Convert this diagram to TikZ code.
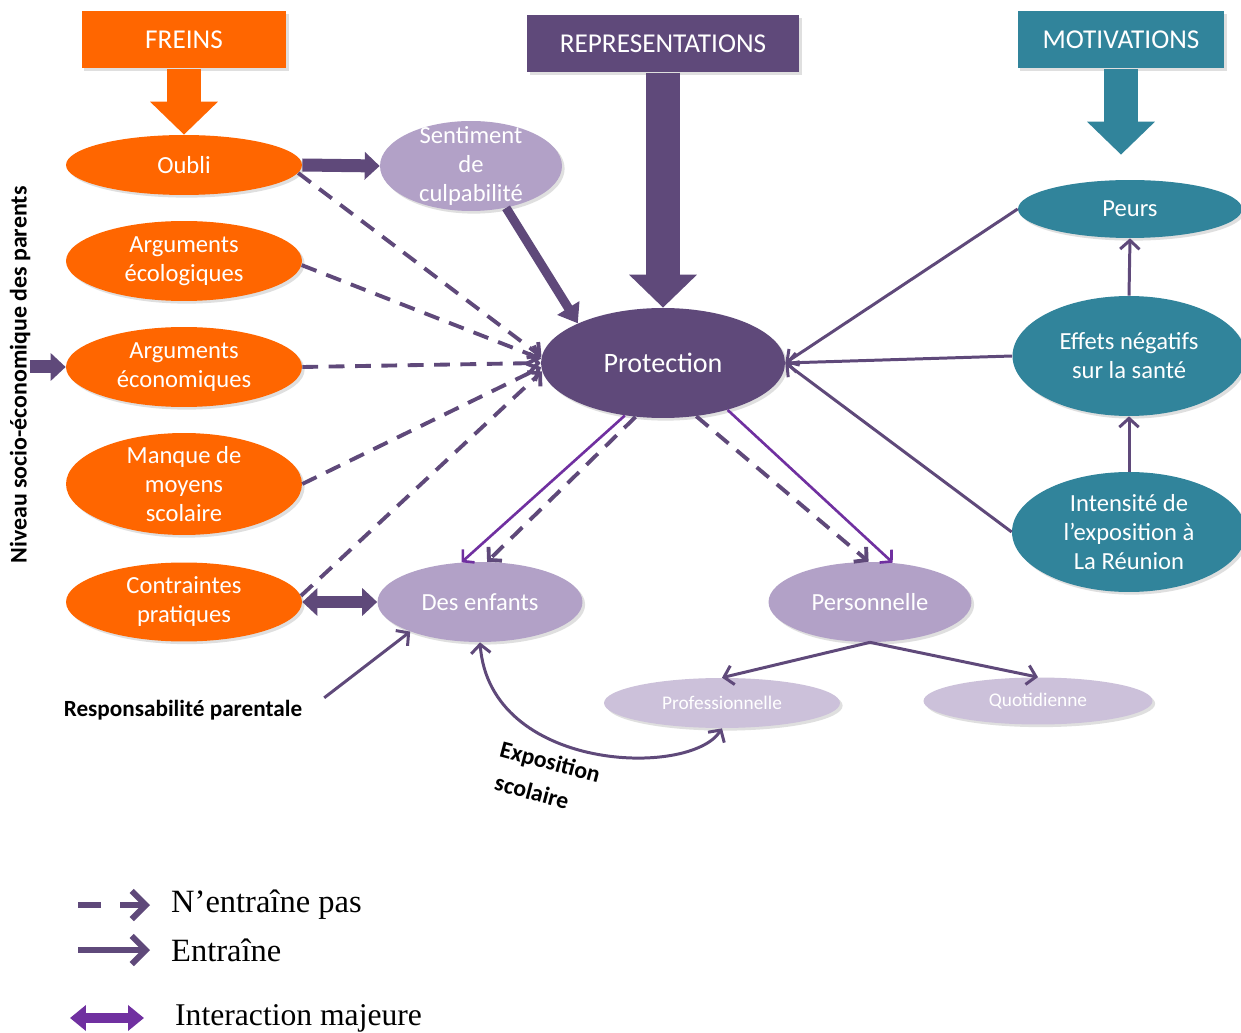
\documentclass[tikz,border=0pt]{standalone}
\usepackage{fontspec}
\setmainfont{Carlito}
\newfontfamily\legende{Liberation Serif}
\usetikzlibrary{arrows.meta,shapes.geometric,shadows}

\definecolor{orangefrein}{HTML}{FF6600}
\definecolor{violetrep}{HTML}{5F497A}
\definecolor{bleumotiv}{HTML}{31849B}
\definecolor{lilas}{HTML}{B2A1C7}
\definecolor{lilasclair}{HTML}{CCC1DA}
\definecolor{violetvif}{HTML}{7030A0}

\begin{document}
\begin{tikzpicture}[x=0.02cm, y=-0.02cm]
    \tikzset{titre/.style= {rectangle, text=white
    , minimum height=1.14cm
    , font=\fontsize{15.5}{18}\selectfont
    , drop shadow={opacity=0.25, shadow xshift=1.5pt, shadow yshift=-1.5pt}
      },
      bulle/.style= {ellipse, align=center, text=white
    , inner sep=0pt
    , font=\fontsize{14}{16.5}\selectfont
    , drop shadow={opacity=0.25, shadow xshift=1.5pt, shadow yshift=-1.5pt}
      },
      grande/.style= {draw=#1, line width=0.68cm
    , -{Triangle[width=1.32cm, length=0.66cm]}
      },
      bloc/.style= {draw=violetrep, line width=0.26cm
    , -{Triangle[width=0.54cm, length=0.3cm]}
      },
      pasentraine/.style= {draw=violetrep, line width=2.2pt
    , dash pattern=on 9pt off 6pt
    , -{Straight Barb[length=5pt, width=11pt]}
      },
      entraine/.style= {draw=violetrep, line width=1.7pt
    , -{Straight Barb[length=5pt, width=11pt]}
      },
      fin/.style= {draw=violetvif, line width=1.5pt
    , -{Straight Barb[length=4.5pt, width=10pt]}
      }
    }

\fill[white] (0,0) rectangle (1241,1033);
\useasboundingbox (0,0) rectangle (1241,1033);

% en-tetes
\node [titre, fill=orangefrein, minimum width=4.1cm] (freins) at (184,40) {FREINS};
\node [titre, fill=violetrep, minimum width=5.44cm] (repr) at (663,44) {REPRESENTATIONS};
\node [titre, fill=bleumotiv, minimum width=4.14cm] (motiv) at (1121,40) {MOTIVATIONS};

% freins
\node [bulle, fill=orangefrein, minimum width=4.72cm, minimum height=1.2cm] (oubli) at (184,165) {Oubli};
\node [bulle, fill=orangefrein, minimum width=4.72cm, minimum height=1.6cm] (arg0) at (184,261) {Arguments\\écologiques};
\node [bulle, fill=orangefrein, minimum width=4.72cm, minimum height=1.6cm] (arg1) at (184,367) {Arguments\\économiques};
\node [bulle, fill=orangefrein, minimum width=4.72cm, minimum height=2.04cm, inner ysep=-4pt] (manque) at (184,484) {Manque de\\moyens\\scolaire};
\node [bulle, fill=orangefrein, minimum width=4.72cm, minimum height=1.58cm] (contr) at (184,602) {Contraintes\\pratiques};

% representations
\node [bulle, fill=lilas, minimum width=3.64cm, minimum height=1.8cm, inner ysep=-8pt] (sent) at (471,166) {Sentiment\\de\\culpabilité};
\node [bulle, fill=violetrep, minimum width=4.88cm, minimum height=2.2cm, font=\fontsize{16}{19}\selectfont] (prot) at (663,363) {Protection};
\node [bulle, fill=lilas, minimum width=4.1cm, minimum height=1.6cm] (enf) at (480,602) {Des enfants};
\node [bulle, fill=lilas, minimum width=4.06cm, minimum height=1.6cm] (pers) at (870,602) {Personnelle};
\node [bulle, fill=lilasclair, minimum width=4.72cm, minimum height=1cm, font=\fontsize{11}{13}\selectfont] (pro) at (722,703) {Professionnelle};
\node [bulle, fill=lilasclair, minimum width=4.58cm, minimum height=0.94cm, font=\fontsize{11}{13}\selectfont] (quot) at (1038,701) {Quotidienne};

% motivations
\node [bulle, fill=bleumotiv, minimum width=4.48cm, minimum height=1.16cm] (peurs) at (1130,209) {Peurs};
\node [bulle, fill=bleumotiv, minimum width=4.66cm, minimum height=2.4cm] (effets) at (1129,356) {Effets négatifs\\sur la santé};
\node [bulle, fill=bleumotiv, minimum width=4.68cm, minimum height=2.4cm] (intens) at (1129,532) {Intensité de\\l’exposition à\\La Réunion};

% textes libres
\node [rotate=90, font=\bfseries\fontsize{13.6}{16}\selectfont] (niveau) at (20,375) {Niveau socio-économique des parents};
\node [font=\bfseries\fontsize{13.2}{16}\selectfont] (resp) at (183,710) {Responsabilité parentale};
\node [rotate=-15, align=left, font=\bfseries\fontsize{13.5}{19}\selectfont] (expo) at (546,778) {Exposition\\\hspace*{2pt}scolaire};

% grosses fleches
\path[grande=orangefrein] (freins.south) -- (oubli.north);
\path[grande=violetrep] (repr.south) -- (prot.north);
\path[grande=bleumotiv, shorten >=0.5cm] (motiv.south) -- (motiv.south |- peurs.north);

\path[bloc] (oubli.east) -- (sent.west);
\path[bloc, {Triangle[width=0.54cm, length=0.3cm]}-{Triangle[width=0.54cm, length=0.3cm]}] (contr.east) -- (enf.west);
\path[bloc, shorten <=-0.12cm] (niveau.south |- arg1) -- (arg1.west);
\path[bloc, line width=0.18cm, -{Triangle[width=0.5cm, length=0.36cm]}] (sent.-50) -- (prot.155);

% n'entraine pas
\path[pasentraine] (oubli.-4) -- (prot.177);
\path[pasentraine] (arg0.-2) -- (prot.178);
\path[pasentraine] (arg1.east) -- (prot.west);
\path[pasentraine] (manque.east) -- (prot.182);
\path[pasentraine] (contr.3) -- (prot.184);
\path[pasentraine] (prot.243) -- (enf.80);
\path[pasentraine] (prot.-58) -- (pers.92);

% entraine
\path[fin] (prot.234) -- (enf.115);
\path[fin] (prot.-36) -- (pers.60);
\path[entraine] (peurs.west) -- (prot.east);
\path[entraine] (effets.west) -- (prot.east);
\path[entraine] (intens.west) -- (prot.east);
\path[entraine] (effets.north) -- (peurs.south);
\path[entraine] (intens.north) -- (effets.south);
\path[entraine] (pers.south) -- (pro.north);
\path[entraine] (pers.south) -- (quot.north);
\path[entraine, shorten <=0.4cm] (resp.east) -- (enf.203);
\path[entraine, {Straight Barb[length=5pt, width=11pt]}-{Straight Barb[length=5pt, width=11pt]}]
  (enf.south) .. controls (490,772) and (690,778) .. (pro.south);

% legende
\coordinate (l0a) at (78,905);
\coordinate (l0b) at (150,905);
\coordinate (l1a) at (78,950);
\coordinate (l1b) at (150,950);
\coordinate (l2a) at (70,1018);
\coordinate (l2b) at (144,1018);
\node [anchor=west, font=\legende\fontsize{18.5}{22}\selectfont] (leg0) at (165,905) {N’entraîne pas};
\node [anchor=west, font=\legende\fontsize{18.5}{22}\selectfont] (leg1) at (165,950) {Entraîne};
\node [anchor=west, font=\legende\fontsize{18}{21}\selectfont] (leg2) at (169,1018) {Interaction majeure};

\path[draw=violetrep, line width=3.4pt, dash pattern=on 13pt off 11pt, -{Straight Barb[length=8pt, width=16pt]}] (l0a) -- (l0b);
\path[draw=violetrep, line width=3.4pt, -{Straight Barb[length=8pt, width=16pt]}] (l1a) -- (l1b);
\path[draw=violetvif, line width=0.2cm, {Triangle[width=0.5cm, length=0.32cm]}-{Triangle[width=0.5cm, length=0.32cm]}] (l2a) -- (l2b);
\end{tikzpicture}
\end{document}
